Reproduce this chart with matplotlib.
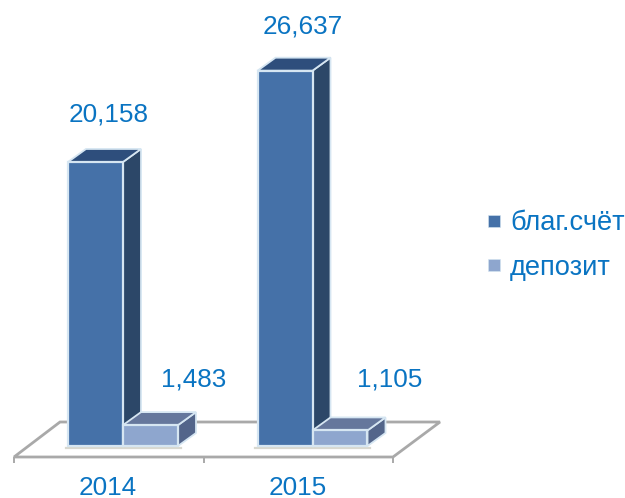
import matplotlib
matplotlib.use("Agg")
import matplotlib.pyplot as plt
from matplotlib.lines import Line2D
from matplotlib.patches import Polygon

years = ["2014", "2015"]
series_names = ["благ.счёт", "депозит"]
blag = [20158, 26637]
depozit = [1483, 1105]
label_blag = ["20,158", "26,637"]
label_dep = ["1,483", "1,105"]

W, H = 625, 498
TEXT = "#0A74C2"
EDGE = "#D6E6F2"
FLOOR = "#A9A9A9"
FS = 18.8
plt.rcParams["font.family"] = ["Liberation Sans", "DejaVu Sans"]

fig = plt.figure(figsize=(W / 100, H / 100), dpi=100)
ax = fig.add_axes([0, 0, 1, 1])
ax.axis("off")

# linear scales: one category = 189.5 px, one unit = 0.01409 px
PX_X = 189.5
PX_Y = 0.01409
ax.set_xlim(-123 / PX_X, (W - 123) / PX_X)
ax.set_ylim(-(H - 446) / PX_Y, 446 / PX_Y)


def dx(p):
    return p / PX_X


def dy(p):
    return p / PX_Y


BAR_W = dx(55)
DEPTH_X, DEPTH_Y = dx(18), dy(13)

# floor
fl = [(-109 / PX_X, -11), (-63 / PX_X, 24), (317 / PX_X, 24), (270 / PX_X, -11)]
floor_pts = [(x, dy(y)) for x, y in fl]
ax.add_patch(Polygon(floor_pts, closed=True, facecolor="white", edgecolor=FLOOR, lw=2.0,
                     joinstyle="miter", zorder=1))
for i in range(3):
    xt = dx(-109 + 189.5 * i)
    ax.plot([xt, xt], [dy(-11), dy(-17)], color=FLOOR, lw=1.4, zorder=1, solid_capstyle="butt")

# soft shadows on the floor
for i in range(2):
    ax.plot([i - BAR_W - dx(2), i + BAR_W + dx(3)], [dy(-1.5), dy(-1.5)], color="#D8D8D0",
            lw=1.6, zorder=1.5)


def bar3d(x0, value, front, side, top):
    x1 = x0 + BAR_W
    ax.add_patch(Polygon([(x1, 0), (x1 + DEPTH_X, DEPTH_Y), (x1 + DEPTH_X, value + DEPTH_Y), (x1, value)],
                         closed=True, facecolor=side, edgecolor=EDGE, lw=1.3, zorder=3))
    ax.add_patch(Polygon([(x0, value), (x0 + DEPTH_X, value + DEPTH_Y), (x1 + DEPTH_X, value + DEPTH_Y), (x1, value)],
                         closed=True, facecolor=top, edgecolor=EDGE, lw=1.3, zorder=3))
    ax.bar(x0, value, width=BAR_W, align="edge", color=front, edgecolor=EDGE, lw=1.6, zorder=4)


for i in range(len(years)):
    bar3d(i - BAR_W, blag[i], "#4571A8", "#2C4768", "#2E4E7C")
for i in range(len(years)):
    bar3d(i, depozit[i], "#8EA6CE", "#53658A", "#65779C")

# value labels (offset from the bar's front-top centre, in px)
off_blag = [(13.5, 47.5), (17.5, 44.5)]
off_dep = [(43, 46), (50, 51)]
for i in range(len(years)):
    ax.annotate(label_blag[i], (i - BAR_W / 2, blag[i]),
                xytext=(off_blag[i][0] * .72, off_blag[i][1] * .72), textcoords="offset points",
                ha="center", va="center", color=TEXT, fontsize=FS, zorder=6)
    ax.annotate(label_dep[i], (i + BAR_W / 2, depozit[i]),
                xytext=(off_dep[i][0] * .72, off_dep[i][1] * .72), textcoords="offset points",
                ha="center", va="center", color=TEXT, fontsize=FS, zorder=6)
    ax.text(i - dx(15), dy(-41.5), years[i], ha="center", va="center", color=TEXT, fontsize=FS, zorder=6)

handles = [Line2D([], [], ls="", marker="s", ms=8, mfc=c, mec=EDGE, mew=0.4) for c in ("#4571A8", "#8EA6CE")]
leg = ax.legend(handles, series_names, loc="center left",
                bbox_to_anchor=(480 / W, 1 - 245.5 / H), frameon=False, fontsize=19.6,
                labelcolor=TEXT, handlelength=1.0, handletextpad=0.1, labelspacing=0.665,
                borderpad=0, borderaxespad=0)

fig.savefig("out.png", dpi=100)
